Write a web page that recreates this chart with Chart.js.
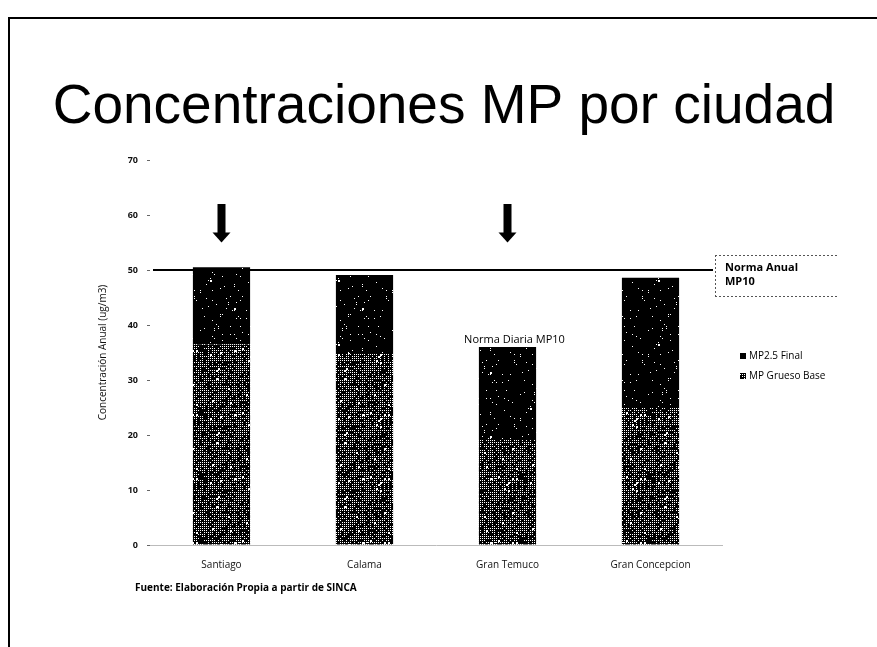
<!DOCTYPE html>
<html>
<head>
<meta charset="utf-8">
<script src="https://cdn.jsdelivr.net/npm/chart.js@4"></script>
<style>
  html, body { margin: 0; padding: 0; background: #fff; }
  #wrap { position: relative; width: 877px; height: 647px; }
</style>
</head>
<body>
<div id="wrap"><canvas id="chart" width="877" height="647"></canvas></div>
<script>
// --- data ---
const ciudades = ['Santiago', 'Calama', 'Gran Temuco', 'Gran Concepcion'];
const mpGruesoBase = [36.5, 34.9, 19.1, 24.9];
const mp25Final = [14.0, 14.2, 16.9, 23.7];
const yTicks = [0, 10, 20, 30, 40, 50, 60, 70];
const normaAnual = 50;
const flechaCiudades = ['Santiago', 'Gran Temuco'];
const flechaDesde = 62;
const flechaHasta = 55;

const titulo = 'Concentraciones MP por ciudad';
const fuente = 'Fuente: Elaboración Propia a partir de SINCA';

// scanned-looking fill (deterministic grain, just texture)
const grain = (whiteRate, seed) => {
    const c = document.createElement('canvas');
    c.width = c.height = 64;
    const g = c.getContext('2d');
    g.fillStyle = '#000';
    g.fillRect(0, 0, 64, 64);
    g.fillStyle = '#fff';
    let s = seed;
    for (let y = 0; y < 64; y += 2) {
        for (let x = 0; x < 64; x += 2) {
            s = (s * 1103515245 + 12345) & 0x7fffffff;
            if ((s % 1000) / 1000 < whiteRate) {
                g.fillRect(x, y, 1 + (s >> 4 & 1), 1 + (s >> 5 & 1));
            }
        }
    }
    return g.createPattern(c, 'repeat');
};
const fillGrueso = grain(0.7, 7);
const fillFinal = grain(0.06, 11);

const FONT = '"Open Sans", "DejaVu Sans", sans-serif';

const slideDecor = {
    id: 'slideDecor',
    afterDatasetsDraw(chart) {
        const ctx = chart.ctx;
        const x = chart.scales.x, y = chart.scales.y;
        ctx.save();

        // slide frame
        ctx.fillStyle = '#000';
        ctx.fillRect(8, 17, 869, 2);
        ctx.fillRect(8, 17, 2, 630);

        // title
        ctx.font = '55px "Liberation Sans", Arial, sans-serif';
        ctx.textAlign = 'center';
        ctx.textBaseline = 'alphabetic';
        ctx.fillText(titulo, 444, 123);

        // norma anual line
        const yn = y.getPixelForValue(normaAnual);
        ctx.fillRect(153, yn - 1, 560, 2);

        // arrows
        flechaCiudades.forEach(c => {
            const cx = x.getPixelForValue(ciudades.indexOf(c));
            const y0 = y.getPixelForValue(flechaDesde);
            const y1 = y.getPixelForValue(flechaHasta);
            ctx.fillRect(cx - 4, y0, 8, (y1 - y0) - 9);
            ctx.beginPath();
            ctx.moveTo(cx - 9, y1 - 10);
            ctx.lineTo(cx + 9, y1 - 10);
            ctx.lineTo(cx, y1);
            ctx.closePath();
            ctx.fill();
        });

        // label over Gran Temuco
        const it = ciudades.indexOf('Gran Temuco');
        ctx.font = '11px ' + FONT;
        ctx.textAlign = 'center';
        ctx.textBaseline = 'middle';
        ctx.fillText('Norma Diaria MP10', x.getPixelForValue(it) + 7,
            y.getPixelForValue(mpGruesoBase[it] + mp25Final[it]) - 7);

        // legend: norma anual box
        ctx.strokeStyle = '#555';
        ctx.lineWidth = 1;
        ctx.setLineDash([2, 2]);
        ctx.beginPath();
        ctx.moveTo(715, 255.5); ctx.lineTo(838, 255.5);
        ctx.moveTo(715, 296.5); ctx.lineTo(838, 296.5);
        ctx.moveTo(715.5, 255); ctx.lineTo(715.5, 296);
        ctx.stroke();
        ctx.setLineDash([]);
        ctx.font = 'bold 11px ' + FONT;
        ctx.textAlign = 'left';
        ctx.fillText('Norma Anual', 725, 268);
        ctx.fillText('MP10', 725, 282);

        // legend: series
        ctx.font = '10px ' + FONT;
        ctx.fillRect(740, 353, 6, 6);
        ctx.fillText('MP2.5 Final', 749, 356);
        ctx.fillStyle = fillGrueso;
        ctx.fillRect(740, 373, 6, 6);
        ctx.fillStyle = '#000';
        ctx.fillText('MP Grueso Base', 749, 376);

        // source
        ctx.font = 'bold 10px ' + FONT;
        ctx.fillText(fuente, 135, 588);

        ctx.restore();
    }
};

new Chart(document.getElementById('chart'), {
    type: 'bar',
    data: {
        labels: ciudades,
        datasets: [{
            label: 'MP Grueso Base', data: mpGruesoBase,
            backgroundColor: fillGrueso, borderWidth: 0
        }, {
            label: 'MP2.5 Final', data: mp25Final,
            backgroundColor: fillFinal, borderWidth: 0
        }]
    },
    options: {
        responsive: false,
        animation: false,
        devicePixelRatio: 1,
        layout: { padding: { left: 95, right: 155, top: 160, bottom: 0 } },
        datasets: { bar: { categoryPercentage: 1, barPercentage: 0.4 } },
        plugins: {
            legend: { display: false },
            title: { display: false },
            tooltip: { enabled: false }
        },
        scales: {
            x: {
                stacked: true,
                afterFit: (s) => { s.height = 102; },
                grid: { display: false },
                border: { display: true, color: '#bbb', dash: [2, 8] },
                ticks: { padding: 6, color: '#111', font: { family: FONT, size: 10 } }
            },
            y: {
                stacked: true,
                min: 0, max: 70,
                afterFit: (s) => { s.width = 55; },
                afterBuildTicks: (s) => { s.ticks = yTicks.map(v => ({ value: v })); },
                grid: { drawOnChartArea: false, tickLength: 3, color: '#666' },
                border: { display: false },
                ticks: { padding: 9, color: '#111', font: { family: FONT, size: 9, weight: 'bold' } },
                title: {
                    display: true, text: 'Concentración Anual (ug/m3)',
                    color: '#111', font: { family: FONT, size: 10 }, padding: { top: 2, bottom: 0 }
                }
            }
        }
    },
    plugins: [slideDecor]
});
</script>
</body>
</html>
